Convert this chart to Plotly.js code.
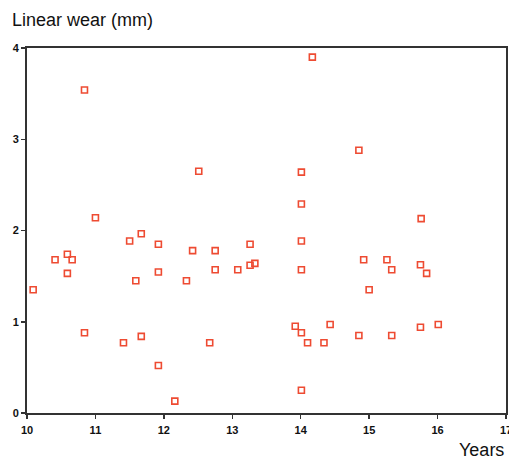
<!DOCTYPE html>
<html>
<head>
<meta charset="utf-8">
<script src="https://cdn.plot.ly/plotly-3.0.1.min.js"></script>
<style>html,body{margin:0;padding:0;background:#fff;}#chart{width:509px;height:460px;}</style>
</head>
<body>
<div id="chart"></div>
<script>
var years = [10.09,10.41,10.59,10.66,10.59,10.84,10.84,11.00,11.41,11.50,11.59,11.67,11.67,11.92,11.92,11.92,12.16,12.33,12.42,12.51,12.67,12.75,12.75,13.08,13.26,13.26,13.33,13.92,14.01,14.01,14.01,14.01,14.01,14.01,14.10,14.17,14.34,14.43,14.85,14.85,14.92,15.00,15.26,15.33,15.33,15.75,15.76,15.75,15.84,16.01];
var wear  = [1.35,1.68,1.74,1.68,1.53,3.54,0.88,2.14,0.77,1.885,1.45,1.965,0.84,1.85,1.545,0.52,0.13,1.45,1.78,2.65,0.77,1.78,1.57,1.57,1.85,1.62,1.64,0.95,2.64,2.29,1.885,1.57,0.88,0.25,0.77,3.90,0.77,0.97,2.88,0.85,1.68,1.35,1.68,1.57,0.85,1.625,2.13,0.94,1.53,0.97];
var xTicks = [10,11,12,13,14,15,16,17];
var yTicks = [0,1,2,3,4];

var trace = {
  x: years, y: wear, type: 'scatter', mode: 'markers',
  marker: {symbol: 'square-open', size: 6, color: '#ee4b32', line: {width: 1.6, color: '#ee4b32'}},
  hoverinfo: 'x+y'
};
var tickFont = {family: 'Liberation Sans, Arial, sans-serif', size: 11, color: '#111', weight: 'bold'};
var layout = {
  width: 509, height: 460,
  margin: {l: 27, r: 3, t: 48, b: 47},
  paper_bgcolor: '#fff', plot_bgcolor: '#fff',
  showlegend: false,
  xaxis: {range: [10, 17], tickvals: xTicks, ticktext: xTicks.map(String), showgrid: false, zeroline: false,
          showline: true, mirror: true, linecolor: '#333', linewidth: 2, ticks: 'outside', ticklen: 4, tickwidth: 1.5, tickcolor: '#333',
          tickfont: tickFont, ticklabeloverflow: 'allow', ticklabelstandoff: 2},
  yaxis: {range: [0, 4], tickvals: yTicks, ticktext: yTicks.map(String), showgrid: false, zeroline: false,
          showline: true, mirror: true, linecolor: '#333', linewidth: 2, ticks: 'outside', ticklen: 4, tickwidth: 1.5, tickcolor: '#333',
          tickfont: tickFont, ticklabeloverflow: 'allow'},
  annotations: [
    {text: 'Linear wear (mm)', xref: 'paper', yref: 'paper', x: -17/479, y: 1 + 28/365, xanchor: 'left', yanchor: 'middle',
     showarrow: false, font: {family: 'Liberation Sans, Arial, sans-serif', size: 18, color: '#111'}},
    {text: 'Years', xref: 'paper', yref: 'paper', x: 1, y: -37/365, xanchor: 'right', yanchor: 'middle',
     showarrow: false, font: {family: 'Liberation Sans, Arial, sans-serif', size: 18, color: '#111'}}
  ]
};
Plotly.newPlot('chart', [trace], layout, {displayModeBar: false, staticPlot: true});
</script>
</body>
</html>
